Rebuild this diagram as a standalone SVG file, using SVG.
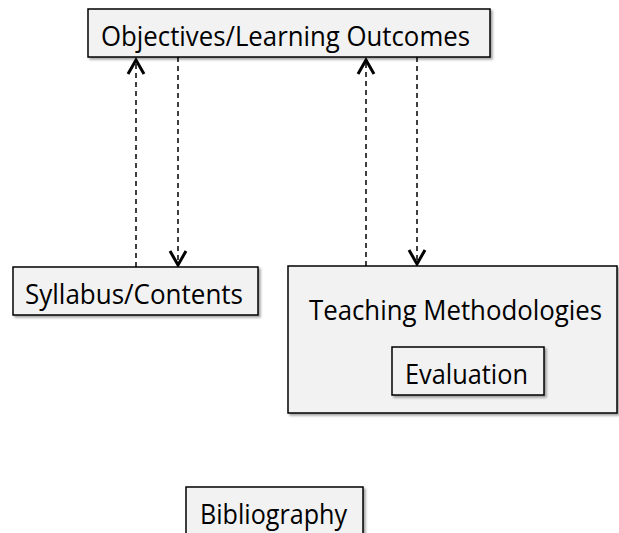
<svg xmlns="http://www.w3.org/2000/svg" width="619" height="533" viewBox="0 0 619 533">
<defs>
<style>
.box{fill:#f2f2f2;stroke:#000;stroke-width:1.5;filter:url(#sh)}
.lbl{font-family:"Open Sans","Noto Sans","Liberation Sans",sans-serif;font-size:27px;fill:#000}
.con{stroke:#000;stroke-width:1.5;stroke-dasharray:5,4;fill:none}
.head{stroke:#000;stroke-width:3;fill:none;stroke-linecap:butt;stroke-linejoin:miter}
</style>
<filter id="sh" x="-10%" y="-10%" width="130%" height="140%">
<feDropShadow dx="2" dy="2" stdDeviation="1.2" flood-color="#000" flood-opacity="0.35"/>
</filter>
</defs>
<rect width="619" height="533" fill="#fff"/>
<g id="connectors">
<line class="con" x1="136" y1="267" x2="136" y2="62"/>
<polyline class="head" points="128,74 136,60 144,74"/>
<line class="con" x1="178" y1="57" x2="178" y2="264"/>
<polyline class="head" points="170,251 178,265 186,251"/>
<line class="con" x1="366" y1="266" x2="366" y2="62"/>
<polyline class="head" points="358,74 366,60 374,74"/>
<line class="con" x1="417" y1="57" x2="417" y2="263"/>
<polyline class="head" points="409,250 417,264 425,250"/>
</g>
<g id="objectives">
<rect class="box" x="88" y="9" width="402" height="48"/>
<text class="lbl" x="101" y="46" textLength="369" lengthAdjust="spacingAndGlyphs">Objectives/Learning Outcomes</text>
</g>
<g id="syllabus">
<rect class="box" x="13" y="267" width="245" height="48"/>
<text class="lbl" x="25" y="304" textLength="218" lengthAdjust="spacingAndGlyphs">Syllabus/Contents</text>
</g>
<g id="teaching">
<rect class="box" x="288" y="266" width="329" height="147"/>
<text class="lbl" x="309" y="320" textLength="293" lengthAdjust="spacingAndGlyphs">Teaching Methodologies</text>
</g>
<g id="evaluation">
<rect class="box" x="392" y="347" width="152" height="48"/>
<text class="lbl" x="405" y="384" textLength="123" lengthAdjust="spacingAndGlyphs">Evaluation</text>
</g>
<g id="bibliography">
<rect class="box" x="186" y="487" width="177" height="52"/>
<text class="lbl" x="200" y="524" textLength="147" lengthAdjust="spacingAndGlyphs">Bibliography</text>
</g>
</svg>
